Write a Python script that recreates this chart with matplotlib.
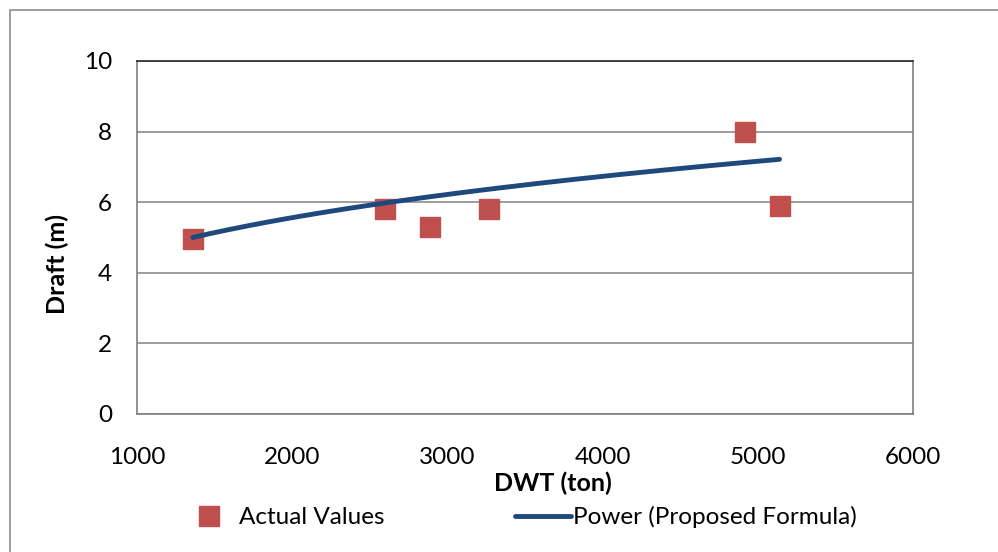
import numpy as np
import matplotlib.pyplot as plt
from matplotlib.patches import Rectangle

plt.rcParams['font.family'] = ['Lato', 'DejaVu Sans']

# Measured ships
dwt = [1360, 2600, 2890, 3270, 4920, 5140]
draft_actual = [4.95, 5.8, 5.3, 5.8, 8.0, 5.9]
# Draft given by the proposed formula at the same DWT values
draft_proposed = [5.0, 5.98, 6.16, 6.37, 7.13, 7.21]

x_ticks = [1000, 2000, 3000, 4000, 5000, 6000]
y_ticks = [0, 2, 4, 6, 8, 10]

fig = plt.figure(figsize=(9.98, 5.52), dpi=100)
ax = fig.add_axes([137 / 998, 138 / 552, 776 / 998, 353 / 552])

# Power trendline (y = a * x^b) through the proposed formula values
b, log_a = np.polyfit(np.log(dwt), np.log(draft_proposed), 1)
xs = np.linspace(min(dwt), max(dwt), 200)
ys = np.exp(log_a) * xs ** b

ax.plot(dwt, draft_actual, linestyle='none', marker='s', markersize=14,
        color='#C0504D', markeredgecolor='#C0504D', label='Actual Values', zorder=3)
ax.plot(xs, ys, color='#1F497D', linewidth=3.5, solid_capstyle='round',
        label='Power (Proposed Formula)', zorder=4)

ax.set_xlim(1000, 6000)
ax.set_ylim(0, 10)
ax.set_xticks(x_ticks)
ax.set_yticks(y_ticks)
ax.tick_params(axis='both', length=0, labelsize=17.5)
ax.tick_params(axis='x', pad=24)
ax.tick_params(axis='y', pad=18)
ax.yaxis.grid(True, color='#8C8C8C', linewidth=1.2)
ax.set_axisbelow(True)

for side in ['left', 'bottom', 'right']:
    ax.spines[side].set_color('#7F7F7F')
    ax.spines[side].set_linewidth(1.2)
ax.spines['top'].set_color('#262626')
ax.spines['top'].set_linewidth(1.2)

ax.set_xlabel('DWT (ton)', fontsize=18, fontweight='bold')
ax.set_ylabel('Draft (m)', fontsize=18, fontweight='bold')
ax.xaxis.set_label_coords(0.536, -0.195)
ax.yaxis.set_label_coords(-0.103, 0.425)
ax.xaxis.label.set_verticalalignment('center')
ax.yaxis.label.set_verticalalignment('center')

fig.legend(loc='center left', bbox_to_anchor=(181 / 998, 35 / 552), ncol=2,
           frameon=False, fontsize=17.5, borderpad=0, borderaxespad=0,
           handlelength=2.3, handletextpad=0.1, columnspacing=5.35)

# Chart area border
fig.patches.append(Rectangle((10 / 998, -0.05), 1.2, (542 / 552) + 0.05,
                             transform=fig.transFigure, fill=False,
                             edgecolor='#8C8C8C', linewidth=1.2))

fig.savefig('out.png', dpi=100)
